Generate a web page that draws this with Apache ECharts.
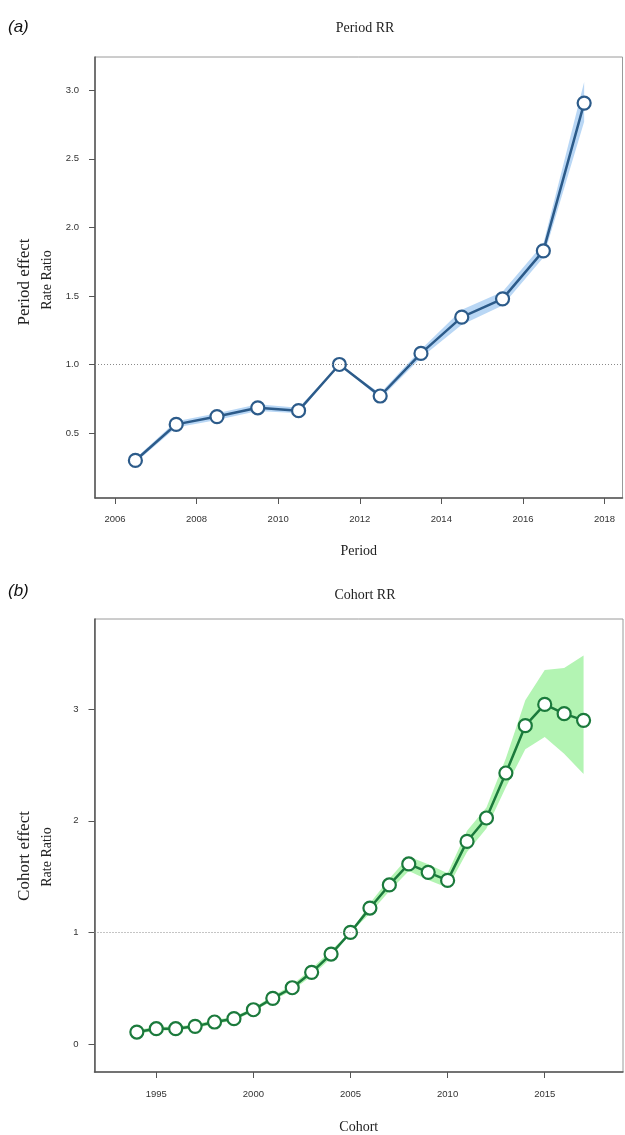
<!DOCTYPE html>
<html>
<head>
<meta charset="utf-8">
<script src="https://cdn.jsdelivr.net/npm/echarts@6/dist/echarts.min.js"></script>
<style>
html,body{margin:0;padding:0;background:#fff;}
#chart{width:625px;height:1135px;}
</style>
</head>
<body>
<div id="chart"></div>
<script>
// ---- Data ----
const periodYears = [2006.5, 2007.5, 2008.5, 2009.5, 2010.5, 2011.5, 2012.5, 2013.5, 2014.5, 2015.5, 2016.5, 2017.5];
const periodRR    = [0.30, 0.563, 0.62, 0.684, 0.663, 1.0, 0.77, 1.081, 1.345, 1.479, 1.829, 2.907];
const periodLower = [0.285, 0.54, 0.595, 0.66, 0.645, 1.0, 0.75, 1.05, 1.29, 1.43, 1.78, 2.77];
const periodUpper = [0.315, 0.585, 0.645, 0.71, 0.685, 1.0, 0.79, 1.11, 1.40, 1.53, 1.88, 3.06];

const cohortYears = [1994, 1995, 1996, 1997, 1998, 1999, 2000, 2001, 2002, 2003, 2004, 2005, 2006, 2007, 2008, 2009, 2010, 2011, 2012, 2013, 2014, 2015, 2016, 2017];
const cohortRR    = [0.107, 0.137, 0.137, 0.158, 0.197, 0.227, 0.307, 0.409, 0.504, 0.642, 0.806, 1.0, 1.218, 1.425, 1.613, 1.538, 1.466, 1.815, 2.025, 2.428, 2.852, 3.043, 2.96, 2.90];
const cohortLower = [0.09, 0.12, 0.12, 0.14, 0.18, 0.21, 0.29, 0.39, 0.48, 0.61, 0.77, 1.0, 1.17, 1.37, 1.55, 1.47, 1.40, 1.72, 1.93, 2.30, 2.64, 2.75, 2.60, 2.42];
const cohortUpper = [0.125, 0.155, 0.155, 0.176, 0.215, 0.245, 0.325, 0.43, 0.53, 0.675, 0.84, 1.0, 1.26, 1.48, 1.68, 1.61, 1.53, 1.91, 2.12, 2.56, 3.08, 3.35, 3.37, 3.48];

const periodXTicks = [2006, 2008, 2010, 2012, 2014, 2016, 2018];
const periodYTicks = [0.5, 1.0, 1.5, 2.0, 2.5, 3.0];
const cohortXTicks = [1995, 2000, 2005, 2010, 2015];
const cohortYTicks = [0, 1, 2, 3];

// ---- Styles ----
const blueLine = '#2c5b8a', blueBand = '#b9d7f5';
const greenLine = '#1b7a3c', greenBand = '#b3f4b3';
const serif = '"Liberation Serif", "DejaVu Serif", serif';
const sans = '"Liberation Sans", Arial, sans-serif';

function bandSeries(xIdx, xs, lo, hi, color) {
  return {
    type: 'custom', xAxisIndex: xIdx, yAxisIndex: xIdx, silent: true, z: 1,
    data: [[xs[0], lo[0]]],
    encode: {x: 0, y: 1},
    renderItem: function (params, api) {
      const up = xs.map((x, i) => api.coord([x, hi[i]]));
      const dn = xs.map((x, i) => api.coord([x, lo[i]])).reverse();
      return {type: 'polygon', shape: {points: up.concat(dn)}, style: {fill: color}};
    }
  };
}

function lineSeries(xIdx, xs, ys, color) {
  return {
    type: 'line', xAxisIndex: xIdx, yAxisIndex: xIdx, z: 3,
    data: xs.map((x, i) => [x, ys[i]]),
    symbol: 'circle', symbolSize: 13,
    lineStyle: {color: color, width: 2.5},
    itemStyle: {color: '#ffffff', borderColor: color, borderWidth: 2.2},
    markLine: {
      silent: true, symbol: 'none', label: {show: false},
      lineStyle: {color: '#8a8a8a', type: [1, 2], width: 1},
      data: [{yAxis: 1}]
    },
    animation: false
  };
}

function xAxisCfg(idx, min, max, ticks, name, gap, lblMargin) {
  return {
    type: 'value', gridIndex: idx, min: min, max: max, name: name,
    nameLocation: 'middle', nameGap: gap,
    nameTextStyle: {fontFamily: serif, fontSize: 14, color: '#222'},
    axisLine: {show: true, onZero: false, lineStyle: {color: '#555', width: 1.5}},
    axisTick: {show: true, length: 6, customValues: ticks, lineStyle: {color: '#555', width: 1}},
    axisLabel: {customValues: ticks, margin: lblMargin, fontFamily: sans, fontSize: 9.5, color: '#333',
                formatter: v => String(Math.round(v))},
    splitLine: {show: false}
  };
}

function yAxisCfg(idx, min, max, ticks, fmt) {
  return {
    type: 'value', gridIndex: idx, min: min, max: max,
    axisLine: {show: true, onZero: false, lineStyle: {color: '#555', width: 1.5}},
    axisTick: {show: true, length: 6, customValues: ticks, lineStyle: {color: '#555', width: 1}},
    axisLabel: {customValues: ticks, margin: 16, fontFamily: sans, fontSize: 9.5, color: '#333', formatter: fmt},
    splitLine: {show: false}
  };
}

const chart = echarts.init(document.getElementById('chart'), null, {renderer: 'canvas'});
chart.setOption({
  backgroundColor: '#ffffff',
  animation: false,
  title: [
    {text: 'Period RR', left: 360, top: 16, textAlign: 'center',
     textStyle: {fontFamily: serif, fontSize: 14, fontWeight: 'normal', color: '#222'}},
    {text: 'Cohort RR', left: 360, top: 583, textAlign: 'center',
     textStyle: {fontFamily: serif, fontSize: 14, fontWeight: 'normal', color: '#222'}}
  ],
  graphic: [
    {type: 'text', left: 8, top: 19, style: {text: '(a)', font: 'italic 17px ' + sans, fill: '#111'}},
    {type: 'text', left: 8, top: 583, style: {text: '(b)', font: 'italic 17px ' + sans, fill: '#111'}},
    {type: 'text', x: 25, y: 282, rotation: Math.PI / 2,
     style: {text: 'Period effect', font: '17px ' + serif, fill: '#222', align: 'center', verticalAlign: 'middle'}},
    {type: 'text', x: 47, y: 280, rotation: Math.PI / 2,
     style: {text: 'Rate Ratio', font: '14px ' + serif, fill: '#222', align: 'center', verticalAlign: 'middle'}},
    {type: 'text', x: 25, y: 856, rotation: Math.PI / 2,
     style: {text: 'Cohort effect', font: '17px ' + serif, fill: '#222', align: 'center', verticalAlign: 'middle'}},
    {type: 'text', x: 47, y: 857, rotation: Math.PI / 2,
     style: {text: 'Rate Ratio', font: '14px ' + serif, fill: '#222', align: 'center', verticalAlign: 'middle'}}
  ],
  grid: [
    {left: 95, top: 57, width: 527.5, height: 441, show: true, borderColor: '#9a9a9a', borderWidth: 1, backgroundColor: 'transparent'},
    {left: 94.5, top: 619, width: 528.5, height: 453, show: true, borderColor: '#9a9a9a', borderWidth: 1, backgroundColor: 'transparent'}
  ],
  xAxis: [
    xAxisCfg(0, 2005.51, 2018.44, periodXTicks, 'Period', 46, 16),
    xAxisCfg(1, 1991.82, 2019.03, cohortXTicks, 'Cohort', 48, 17)
  ],
  yAxis: [
    yAxisCfg(0, 0.026, 3.243, periodYTicks, v => v.toFixed(1)),
    yAxisCfg(1, -0.251, 3.808, cohortYTicks, v => String(Math.round(v)))
  ],
  series: [
    bandSeries(0, periodYears, periodLower, periodUpper, blueBand),
    lineSeries(0, periodYears, periodRR, blueLine),
    bandSeries(1, cohortYears, cohortLower, cohortUpper, greenBand),
    lineSeries(1, cohortYears, cohortRR, greenLine)
  ]
});
</script>
</body>
</html>
